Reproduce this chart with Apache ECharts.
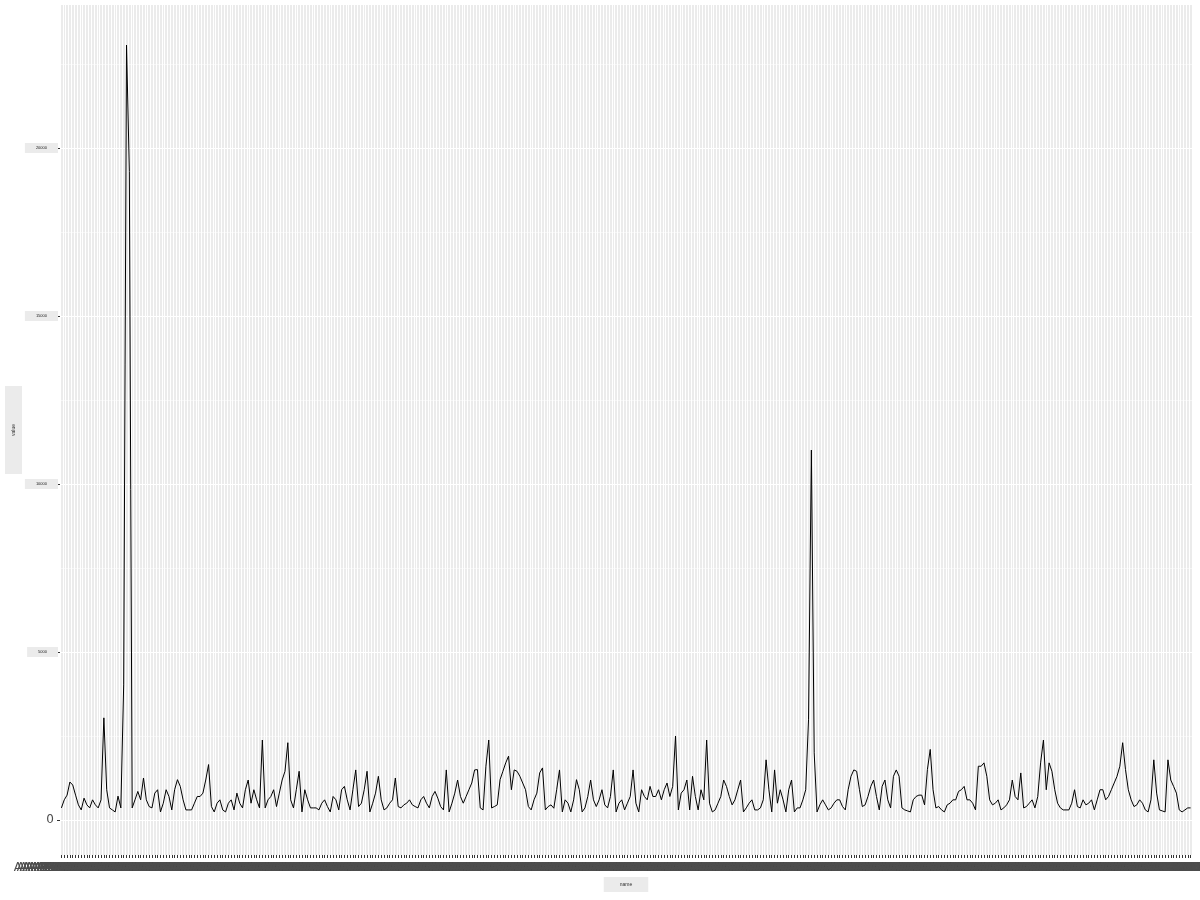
<!DOCTYPE html>
<html>
<head>
<meta charset="utf-8">
<script src="https://cdn.jsdelivr.net/npm/echarts@6/dist/echarts.min.js"></script>
<style>html,body{margin:0;padding:0;background:#fff}#c{width:1200px;height:900px}</style>
</head>
<body>
<div id="c"></div>
<script>
const values = [
360,600,740,1130,1040,740,450,300,650,450,
360,600,450,360,600,3040,900,360,300,240,
710,360,4020,23065,19300,360,600,850,600,1250,
600,400,360,800,900,240,500,900,700,300,
900,1200,1000,600,300,300,300,500,700,700,
800,1190,1650,400,240,500,600,300,240,500,
600,300,800,500,360,900,1190,500,900,600,
360,2380,360,600,700,900,400,800,1190,1450,
2300,600,360,900,1450,240,900,600,360,360,
360,300,500,600,400,240,700,600,300,900,
1000,600,300,900,1490,400,500,900,1450,240,
500,800,1300,600,300,360,500,600,1250,400,
360,450,500,600,450,400,360,600,700,500,
360,700,850,650,400,300,1490,240,500,800,
1190,700,500,700,900,1100,1490,1500,360,300,
1600,2380,360,400,450,1200,1450,1700,1900,900,
1490,1450,1300,1100,900,400,300,600,800,1400,
1550,300,400,450,350,900,1490,240,600,500,
240,600,1200,900,240,360,700,1190,600,400,
600,900,450,360,700,1490,240,500,600,300,
500,700,1490,500,240,900,700,600,1000,700,
700,900,600,900,1100,700,1000,2500,300,800,
900,1190,300,1300,700,300,900,600,2380,500,
240,300,500,700,1190,1000,700,450,600,900,
1190,240,360,500,600,300,300,360,600,1790,
900,240,1490,500,900,600,240,900,1190,240,
360,360,600,900,3000,11010,2000,240,450,600,
450,300,360,500,600,600,400,300,900,1300,
1490,1450,900,400,450,700,1000,1190,700,300,
1000,1190,600,360,1300,1490,1300,360,300,270,
240,600,700,740,740,450,1500,2100,900,360,
400,300,240,450,500,600,600,850,900,1000,
600,600,500,300,1600,1600,1700,1300,600,450,
500,600,300,360,450,600,1190,700,600,1400,
360,400,500,600,360,700,1700,2380,900,1700,
1450,900,500,360,300,300,300,500,900,400,
360,600,450,500,600,300,600,900,900,600,
700,900,1100,1300,1600,2300,1500,900,600,400,
450,600,500,300,240,600,1790,800,300,270,
240,1790,1190,1000,800,300,240,300,360,360
];
const categories = values.map((_, i) => 'AAABXS' + String(i + 1).padStart(6, '0'));
const yTicks = [0, 5000, 10000, 15000, 20000];
const yMinor = [2500, 7500, 12500, 17500, 22500];
const xTitle = 'name';
const yTitle = 'value';

const chart = echarts.init(document.getElementById('c'), null, {renderer: 'canvas'});
chart.setOption({
  animation: false,
  backgroundColor: '#ffffff',
  grid: {left: 60, right: 8, top: 5, bottom: 45, show: true, backgroundColor: '#EBEBEB', borderWidth: 0, containLabel: false, outerBoundsMode: 'none'},
  xAxis: {
    type: 'category',
    data: categories,
    boundaryGap: true,
    name: xTitle,
    nameLocation: 'middle',
    nameGap: 22,
    nameMoveOverlap: false,
    nameTextStyle: {fontSize: 5, color: '#333', backgroundColor: '#EBEBEB', padding: [5, 16]},
    axisLine: {show: false, onZero: false},
    axisTick: {show: true, interval: 0, alignWithLabel: true, length: 3, lineStyle: {color: '#333', width: 1}},
    axisLabel: {show: true, interval: 0, hideOverlap: false, fontSize: 12, color: '#4D4D4D', margin: 7, fontFamily: 'DejaVu Sans'},
    splitLine: {show: true, interval: 0, lineStyle: {color: '#ffffff', width: 1}}
  },
  yAxis: [{
    type: 'value',
    min: -1042,
    max: 24256,
    name: yTitle,
    nameLocation: 'middle',
    nameRotate: 90,
    nameGap: 38,
    nameMoveOverlap: false,
    nameTextStyle: {fontSize: 5, color: '#333', backgroundColor: '#EBEBEB', padding: [6, 38]},
    axisLine: {show: false},
    axisTick: {show: true, length: 3, lineStyle: {color: '#333', width: 1}, customValues: yTicks},
    axisLabel: {
      customValues: yTicks,
      margin: 2,
      formatter: v => v === 0 ? '{a|0}' : '{b|' + v + '}',
      rich: {
        a: {fontSize: 12, color: '#4D4D4D', padding: [0, 4, 0, 0], fontFamily: 'DejaVu Sans'},
        b: {fontSize: 4, color: '#222', backgroundColor: '#EBEBEB', padding: [3, 11, 3, 11]}
      }
    },
    splitLine: {show: true, lineStyle: {color: '#ffffff', width: 1}}
  }, {
    type: 'value',
    min: -1042,
    max: 24256,
    position: 'left',
    axisLine: {show: false},
    axisTick: {show: false, customValues: yMinor},
    axisLabel: {show: false},
    splitLine: {show: true, lineStyle: {color: '#ffffff', width: 0.5}}
  }],
  series: [{
    type: 'line',
    yAxisIndex: 0,
    data: values,
    showSymbol: false,
    symbol: 'none',
    lineStyle: {color: '#000000', width: 1},
    silent: true
  }]
});
</script>
</body>
</html>
